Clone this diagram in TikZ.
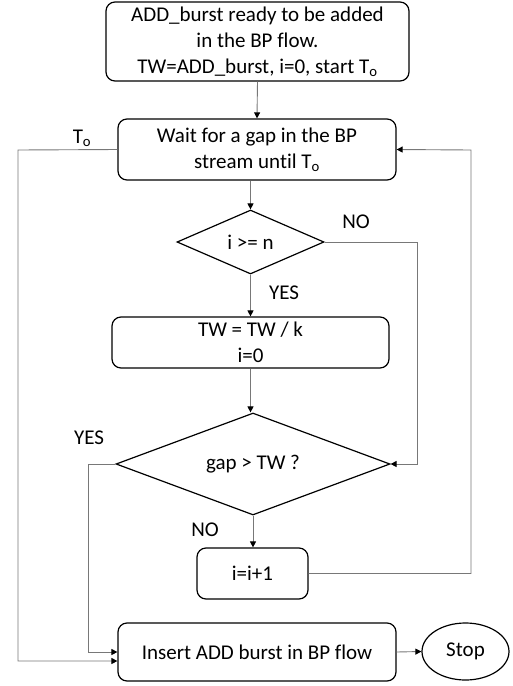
\documentclass[tikz,border=0pt]{standalone}
\usepackage{fontspec}
\setmainfont{Carlito}[Ligatures=NoCommon]
\usepackage{tikz}
\usetikzlibrary{arrows.meta,shapes,positioning,calc}
\definecolor{fcline}{RGB}{120,120,120}
\tikzstyle{arrow} = [->,>={Triangle[length=6pt,width=6pt,color=black]},color=fcline,line width=0.9pt]
\tikzstyle{process} = [rectangle, rounded corners=9pt, text centered, draw=black, line width=1.2pt, inner sep=0pt, align=center]
\tikzstyle{decision} = [diamond, draw=black, line width=1.2pt, inner sep=0pt, shape aspect=2.5, text centered]
\tikzstyle{terminal} = [ellipse, draw=black, line width=1.2pt, inner sep=0pt, text centered]
\tikzstyle{lbl} = [inner sep=0pt]

\begin{document}
\begin{tikzpicture}[x=1pt,y=-1pt,font=\fontsize{21}{26}\selectfont]
    \useasboundingbox (0,0) rectangle (512,686);

    % Blocks
    \node[process, minimum width=303pt, minimum height=79pt] (start) at (257.5,41.5)
        {ADD\_burst ready to be added\\in the BP flow.\\TW=ADD\_burst, i=0, start T\textsubscript{o}};
    \node[process, minimum width=278pt, minimum height=61pt] (wait) at (257,149.5)
        {Wait for a gap in the BP\\stream until T\textsubscript{o}};
    \node[decision, minimum width=147pt, minimum height=64pt] (chk) at (250.5,242) {i >= n};
    \node[process, minimum width=277pt, minimum height=51pt] (tw) at (250.5,342.5) {TW = TW / k\\i=0};
    \node[decision, minimum width=274pt, minimum height=102pt] (gap) at (253,464) {gap > TW ?};
    \node[process, minimum width=111pt, minimum height=51pt] (inc) at (252.5,573.5) {i=i+1};
    \node[process, minimum width=278pt, minimum height=58pt] (ins) at (257,652) {Insert ADD burst in BP flow};
    \node[terminal, minimum width=87pt, minimum height=57pt] (stop) at (465.5,651.5) {Stop};

    % Turning points
    \coordinate (noj) at (417,464);
    \coordinate (yesj) at (88,464);
    \coordinate (loopj) at (471,150);
    \coordinate (toj) at (18,150);

    % Main flow
    \draw[arrow] (start.south) -- (wait.north);
    \draw[arrow] (wait.south -| chk.north) -- (chk.north);
    \draw[arrow] (chk.south) -- (tw.north);
    \draw[arrow] (tw.south) -- (tw.south |- gap.north);
    \draw[arrow] (gap.south) -- (gap.south |- inc.north);
    \draw[arrow] (ins.east) -- (stop.west);

    % Branches
    \draw[arrow] (chk.east) -| (noj) -- (gap.east);
    \draw[arrow] (gap.west) -- (yesj) |- (ins.west);
    \draw[arrow] (inc.east) -| (loopj) -- (wait.east);
    \draw[arrow] (wait.west) -- (toj) |- ([yshift=-9pt]ins.west);

    % Labels
    \node[lbl] (lto) at (82,138) {T\textsubscript{o}};
    \node[lbl] (lno1) at (356,222) {NO};
    \node[lbl] (lyes1) at (284,293) {YES};
    \node[lbl] (lyes2) at (89,438) {YES};
    \node[lbl] (lno2) at (205,530) {NO};
\end{tikzpicture}
\end{document}
